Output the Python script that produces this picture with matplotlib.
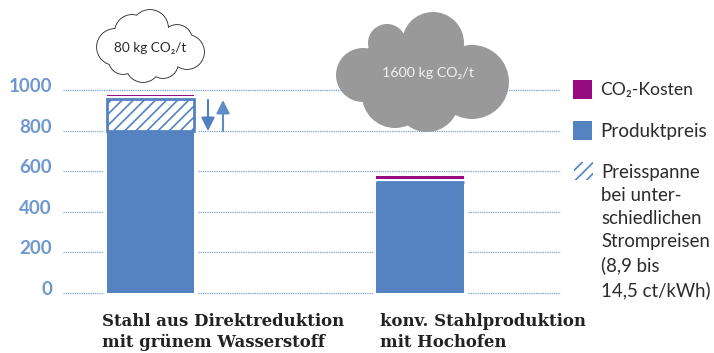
"""Stahlpreis figure: stacked bars with CO2 clouds and a manual legend."""
import matplotlib
matplotlib.use("Agg")
import matplotlib.pyplot as plt
from matplotlib.patches import Circle, Rectangle
from matplotlib.transforms import ScaledTranslation

# ---- data ------------------------------------------------------------------
categories = ["Stahl aus Direktreduktion\nmit grünem Wasserstoff",
              "konv. Stahlproduktion\nmit Hochofen"]
produktpreis = [800, 548]
preisspanne = [156, 0]
co2_kosten = [7, 14]
yticks = [0, 200, 400, 600, 800, 1000]

# ---- palette ---------------------------------------------------------------
BLUE = "#5583c2"
PURPLE = "#970a82"
GRID = "#7ba1d8"
TICK = "#6e97cf"
GREY = "#999999"
TXT = "#2b2b2b"
SANS = "Lato"

W, H = 714, 353
GAP = 12  # white gap between bar and co2 strip

plt.rcParams["hatch.linewidth"] = 1.2
fig = plt.figure(figsize=(W / 100, H / 100), dpi=100)

# main axes, placed so that 0 -> y=293 and 1000 -> y=90
ax = fig.add_axes([63 / W, 1 - 298.1 / H, 498 / W, (298.1 - 84.9) / H])
ax.set_xlim(-0.3247, 1.523)
ax.set_ylim(-25, 1025)
for s in ax.spines.values():
    s.set_visible(False)
ax.set_xticks([])
ax.set_yticks(yticks)
ax.tick_params(axis="y", length=0, pad=8)
# tick labels sit about 5 px above their grid lines
lift = ScaledTranslation(0, 5 / 100, fig.dpi_scale_trans)
for lab in ax.get_yticklabels():
    lab.set_fontfamily(SANS)
    lab.set_fontweight("bold")
    lab.set_fontsize(13.5)
    lab.set_color(TICK)
    lab.set_transform(lab.get_transform() + lift)
ax.grid(axis="y", ls=(0, (1, 0.8)), lw=0.9, color=GRID, zorder=1)
ax.set_axisbelow(True)

x = [0, 1]
bw = 0.325
tops = [p + r for p, r in zip(produktpreis, preisspanne)]
co2_bottom = [t + GAP for t in tops]

# white halo cuts the grid around the bars
ax.bar(x, tops, bw, color="white", edgecolor="white", lw=5, zorder=2)
ax.bar(x, produktpreis, bw, color=BLUE, edgecolor="none", zorder=3)
ax.bar(x, preisspanne, bw, bottom=produktpreis, color="white", edgecolor=BLUE,
       hatch="///", lw=2, zorder=3)
ax.bar(x, co2_kosten, bw, bottom=co2_bottom, color=PURPLE, edgecolor="none", zorder=3)

# overlay in pixel coordinates for clouds, arrows, legend and labels
ov = fig.add_axes([0, 0, 1, 1], zorder=5)
ov.set_xlim(0, W)
ov.set_ylim(H, 0)
ov.axis("off")
ov.patch.set_alpha(0)

# outlined cloud: black circles first, white ones on top
white_lobes = [(115, 47, 18), (132, 32, 17), (150, 28, 18), (177, 40, 15),
               (187, 52, 17), (163, 63, 15), (143, 65, 17), (123, 60, 14), (150, 46, 22)]
for cx, cy, r in white_lobes:
    ov.add_patch(Circle((cx, cy), r, fc="#222222", ec="#222222", lw=1.2))
for cx, cy, r in white_lobes:
    ov.add_patch(Circle((cx, cy), r, fc="white", ec="white", lw=0))
ov.text(150, 48, "80 kg CO₂/t", ha="center", va="center", fontsize=9.8,
        family=SANS, color=TXT)

grey_lobes = [(363, 75, 27), (387, 43, 19), (433, 43, 31), (472, 82, 37),
              (395, 95, 33), (427, 100, 32), (420, 75, 35), (395, 62, 30)]
for cx, cy, r in grey_lobes:
    ov.add_patch(Circle((cx, cy), r, fc=GREY, ec="none"))
ov.text(428, 73, "1600 kg CO₂/t", ha="center", va="center", fontsize=10.3,
        family=SANS, color="#f2f2f2")

# range arrows
ov.annotate("", xy=(208, 131), xytext=(208, 100),
            arrowprops=dict(arrowstyle="-|>", color="#4f7fc0", lw=1.5, mutation_scale=20,
                            shrinkA=0, shrinkB=0))
ov.annotate("", xy=(223, 100), xytext=(223, 131),
            arrowprops=dict(arrowstyle="-|>", color="#5f8cc8", lw=1.5, mutation_scale=20,
                            shrinkA=0, shrinkB=0))

# category labels
ov.text(102, 332, categories[0], ha="left", va="center", fontsize=11.9, linespacing=1.36,
        family="DejaVu Serif", fontweight="bold", color="#222222")
ov.text(380, 332, categories[1], ha="left", va="center", fontsize=11.9, linespacing=1.36,
        family="DejaVu Serif", fontweight="bold", color="#222222")

# legend
ov.add_patch(Rectangle((573, 80), 19, 19, fc=PURPLE, ec="none"))
ov.add_patch(Rectangle((573, 121), 19, 19, fc=BLUE, ec="none"))
ov.add_patch(Rectangle((574, 162), 19, 18, fc="none", ec=BLUE, lw=0, hatch="///"))
ov.text(600, 90, "CO₂-Kosten", va="center", fontsize=12.6, family=SANS, color=TXT)
ov.text(600, 131, "Produktpreis", va="center", fontsize=13.6, family=SANS, color=TXT)
ov.text(601, 164, "Preisspanne\nbei unter-\nschiedlichen\nStrompreisen\n(8,9 bis\n14,5 ct/kWh)",
        va="top", ha="left", fontsize=13.4, linespacing=1.43, family=SANS, color=TXT)

fig.savefig("out.png", dpi=100)
